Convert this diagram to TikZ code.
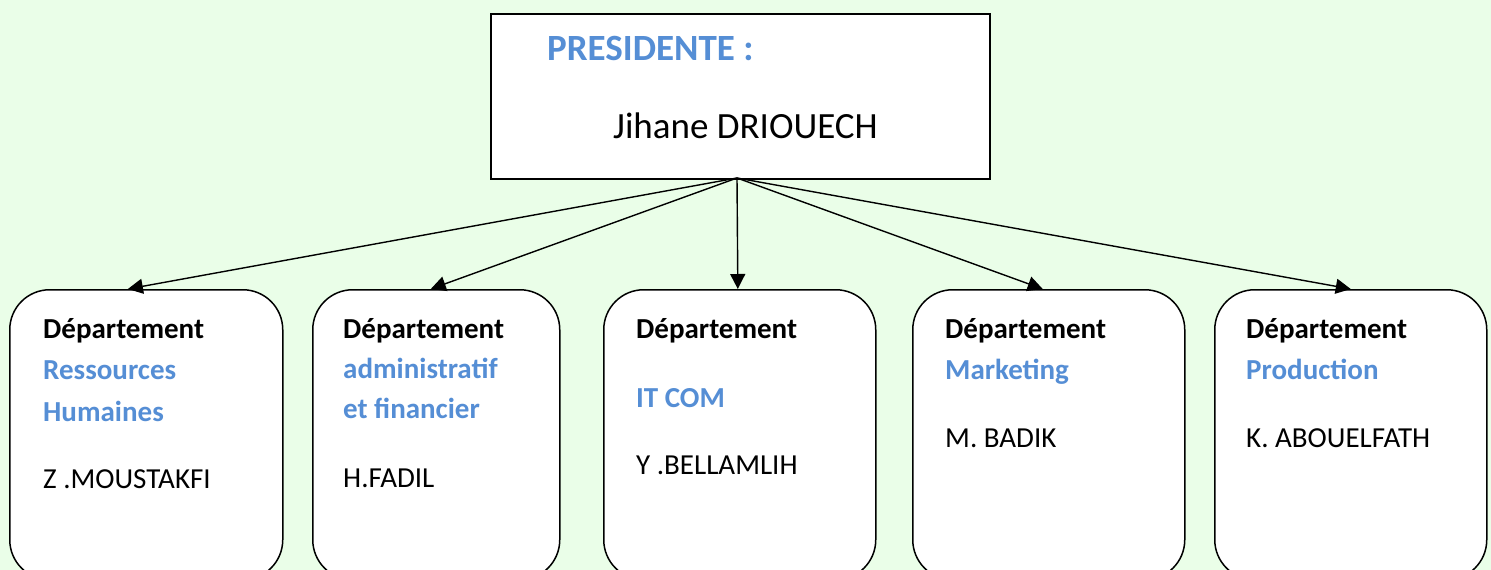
\documentclass[tikz,border=0pt]{standalone}
\usepackage{fontspec}
\setmainfont{Carlito}
\usetikzlibrary{arrows.meta,calc}
\definecolor{bgg}{HTML}{EAFEE8}
\definecolor{deptblue}{HTML}{558ED5}
\begin{document}
\begin{tikzpicture}[x=1pt,y=-1pt,
  dept/.style={draw, line width=1.5pt, fill=white, rounded corners=40pt, anchor=north west, minimum height=290pt, inner sep=0pt},
  presbox/.style={draw, line width=1.5pt, fill=white, anchor=north west, minimum width=499pt, minimum height=165pt, inner sep=0pt},
  dtitle/.style={anchor=base west, inner sep=0pt, font=\fontsize{29}{32}\selectfont\bfseries},
  dperson/.style={anchor=base west, inner sep=0pt, font=\fontsize{29}{32}\selectfont},
  link/.style={line width=1.4pt, -{Triangle[length=15pt,width=15pt]}}]
\useasboundingbox (0,0) rectangle (1491,570);
\clip (0,0) rectangle (1491,570);
\fill[bgg] (0,0) rectangle (1491,570);
% president
\node[presbox] (pres) at (490,13) {};
\node[anchor=base west, inner sep=0pt, font=\fontsize{37}{40}\selectfont\bfseries, text=deptblue] (ptitle) at (547,60) {PRESIDENTE :};
\node[anchor=base west, inner sep=0pt, font=\fontsize{37}{40}\selectfont] (pname) at (613,138) {Jihane DRIOUECH};
\coordinate (apex) at (737,178);
% departments
\node[dept, minimum width=273pt] (d1) at (9,289) {};
\node[dept, minimum width=247pt] (d2) at (312,289) {};
\node[dept, minimum width=272pt] (d3) at (603,289) {};
\node[dept, minimum width=272pt] (d4) at (912,289) {};
\node[dept, minimum width=272pt] (d5) at (1214,289) {};
% texts
\node[dtitle] (t1a) at (43,338) {Département};
\node[dtitle, text=deptblue] (t1b) at (43,379) {Ressources};
\node[dtitle, text=deptblue] (t1c) at (43,421) {Humaines};
\node[dperson] (t1d) at (43,488) {Z .MOUSTAKFI};
\node[dtitle] (t2a) at (343,338) {Département};
\node[dtitle, text=deptblue] (t2b) at (343,378) {administratif};
\node[dtitle, text=deptblue] (t2c) at (343,418) {et financier};
\node[dperson] (t2d) at (343,487) {H.FADIL};
\node[dtitle] (t3a) at (636,338) {Département};
\node[dtitle, text=deptblue] (t3b) at (636,407) {IT COM};
\node[dperson] (t3d) at (636,474) {Y .BELLAMLIH};
\node[dtitle] (t4a) at (945,338) {Département};
\node[dtitle, text=deptblue] (t4b) at (945,379) {Marketing};
\node[dperson] (t4d) at (945,447) {M. BADIK};
\node[dtitle] (t5a) at (1246,338) {Département};
\node[dtitle, text=deptblue] (t5b) at (1246,379) {Production};
\node[dperson] (t5d) at (1246,447) {K. ABOUELFATH};
% arrows
\draw[link] (apex) -- ($(d1.north west)!0.433!(d1.north east)$);
\draw[link] (apex) -- ($(d2.north west)!0.478!(d2.north east)$);
\draw[link] (apex) -- ($(d3.north west)!0.493!(d3.north east)$);
\draw[link] (apex) -- ($(d4.north west)!0.478!(d4.north east)$);
\draw[link] (apex) -- ($(d5.north west)!0.5!(d5.north east)$);
\end{tikzpicture}
\end{document}
